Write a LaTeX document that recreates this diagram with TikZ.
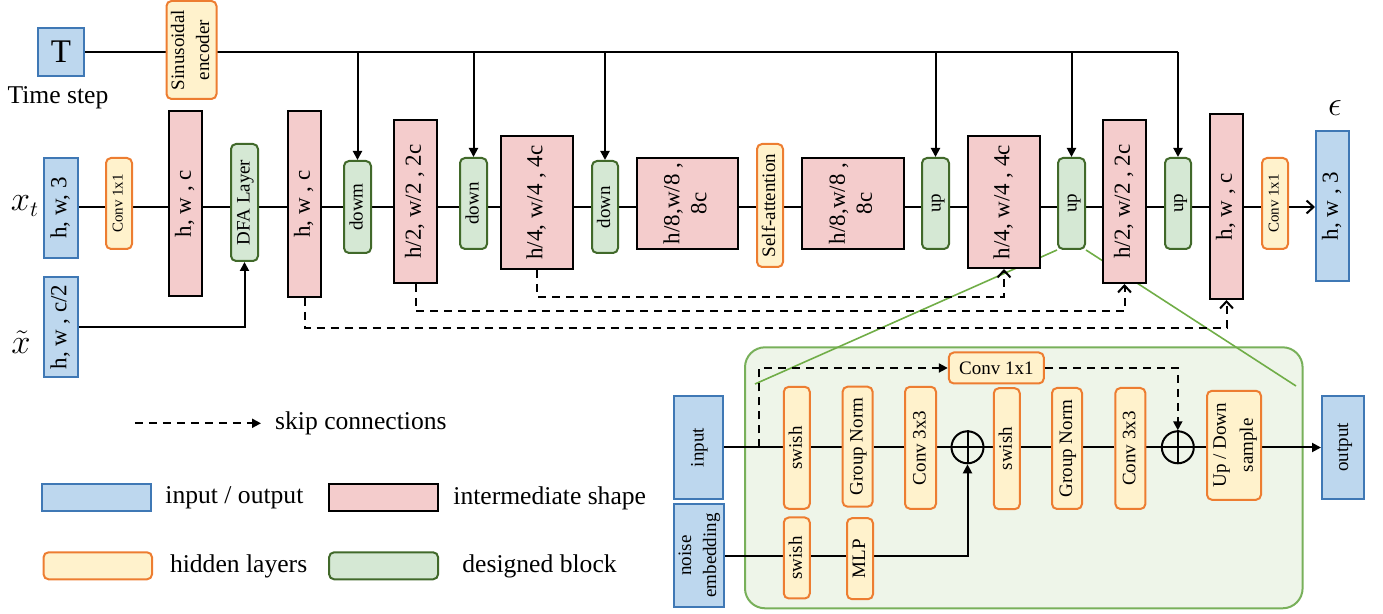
\documentclass[tikz,border=0pt]{standalone}
\usepackage{amsmath}
\usepackage{fontspec}
\setmainfont{Liberation Serif}
\usepackage{graphicx}
\usetikzlibrary{arrows.meta,shapes.geometric}
\definecolor{ioF}{HTML}{BDD7EE}
\definecolor{ioB}{HTML}{3F78B5}
\definecolor{midF}{HTML}{F4CCCC}
\definecolor{hidF}{HTML}{FFF2CC}
\definecolor{hidB}{HTML}{ED7D31}
\definecolor{blkF}{HTML}{D5E8D4}
\definecolor{blkB}{HTML}{41692A}
\definecolor{conF}{HTML}{EEF5E9}
\definecolor{conB}{HTML}{78B05A}
\definecolor{zoomL}{HTML}{70AD47}
\pgfdeclarelayer{back}
\pgfdeclarelayer{bg}
\pgfsetlayers{back,bg,main}
\newcommand\vtxt[1]{\rotatebox{90}{\begin{tabular}{@{}c@{}}#1\end{tabular}}}
\newcommand\fsA{\fontsize{11.5}{13.5}\selectfont}
\newcommand\fsB{\fontsize{9.5}{12.5}\selectfont}
\newcommand\fsC{\fontsize{7.5}{9}\selectfont}
\newcommand\fsL{\fontsize{12.8}{15}\selectfont}
\newcommand\fsM{\fontsize{16}{18}\selectfont}
\tikzset{
  sz/.style 2 args={minimum width=#1*0.5pt, minimum height=#2*0.5pt},
  io/.style={draw=ioB, fill=ioF, line width=1pt, inner sep=0pt, font=\fsA},
  mid/.style={draw=black, fill=midF, line width=1pt, inner sep=0pt, font=\fsA},
  hid/.style={draw=hidB, fill=hidF, line width=1pt, rounded corners=2.5pt, inner sep=0pt, font=\fsB},
  blk/.style={draw=blkB, fill=blkF, line width=1pt, rounded corners=2.5pt, inner sep=0pt, font=\fsB},
  opl/.style={draw=black, circle, line width=1pt, minimum size=16pt, inner sep=0pt},
  con/.style={draw=conB, fill=conF, line width=1pt, rounded corners=10pt, inner sep=0pt},
  wire/.style={line width=1pt, draw=black},
  dsh/.style={line width=1pt, dash pattern=on 4pt off 3pt},
  ta/.style={-{Triangle[length=4.5pt,width=4.5pt]}},
  ob/.style={-{Straight Barb[length=3.5pt,width=6.5pt,line width=1pt]}},
  zl/.style={draw=zoomL, line width=0.8pt},
  lbl/.style={inner sep=0pt, font=\fsL},
  mlbl/.style={inner sep=0pt, font=\fsM},
}
\begin{document}
\begin{tikzpicture}[x=0.5pt,y=-0.5pt]
\useasboundingbox (0,0) rectangle (1383,614);

% ---------- top row ----------
\node[io, sz={46}{48}, font=\fontsize{16.5}{18}\selectfont] (T) at (61,52) {T};
\node[lbl] (tsl) at (58,98) {Time step};
\node[hid, sz={45}{98}] (sin) at (191.5,50) {\vtxt{Sinusoidal\\encoder}};

\node[io, sz={34}{100}] (xt) at (61,208) {\vtxt{h, w, 3}};
\node[mlbl] (xtl) at (25,206) {$x_t$};
\node[hid, sz={26}{91}, font=\fsC] (cv1) at (119,203.5) {\vtxt{Conv 1x1}};
\node[mid, sz={33}{185}] (hw1) at (185.5,203.5) {\vtxt{h, w , c}};
\node[blk, sz={27}{117}] (dfa) at (244.5,202.5) {\vtxt{DFA Layer}};
\node[mid, sz={33}{186}] (hw2) at (304.5,204) {\vtxt{h, w , c}};
\node[blk, sz={27}{92}] (dowm) at (357.5,207) {\vtxt{dowm}};
\node[mid, sz={43}{163}] (h2a) at (415.5,201.5) {\vtxt{h/2, w/2 , 2c}};
\node[blk, sz={27}{91}] (dn1) at (473.5,203.5) {\vtxt{down}};
\node[mid, sz={72}{133}] (h4a) at (537,202.5) {\vtxt{h/4, w/4 , 4c}};
\node[blk, sz={26}{92}] (dn2) at (605,207) {\vtxt{down}};
\node[mid, sz={101}{91}] (h8a) at (687.5,203.5) {\vtxt{h/8,w/8 ,\\8c}};
\node[hid, sz={26}{123}] (sa) at (770,205.5) {\vtxt{Self-attention}};
\node[mid, sz={102}{91}] (h8b) at (853,203.5) {\vtxt{h/8,w/8 ,\\8c}};
\node[blk, sz={27}{91}] (up1) at (935.5,203.5) {\vtxt{up}};
\node[mid, sz={72}{132}] (h4b) at (1004,202) {\vtxt{h/4, w/4 , 4c}};
\node[blk, sz={27}{91}] (up2) at (1071.5,203.5) {\vtxt{up}};
\node[mid, sz={43}{163}] (h2b) at (1124.5,201.5) {\vtxt{h/2, w/2 , 2c}};
\node[blk, sz={26}{91}] (up3) at (1178,203.5) {\vtxt{up}};
\node[mid, sz={33}{185}] (hw3) at (1226.5,206.5) {\vtxt{h, w , c}};
\node[hid, sz={26}{91}, font=\fsC] (cv2) at (1275,203.5) {\vtxt{Conv 1x1}};
\node[io, sz={33}{150}] (out) at (1332.5,206) {\vtxt{h, w , 3}};
\node[mlbl] (eps) at (1335,108) {$\epsilon$};

\node[io, sz={34}{100}] (xs) at (61,327) {\vtxt{h, w , c/2}};
\node[mlbl] (xsl) at (21,342) {$\tilde{x}$};

\coordinate (m) at (0,207);
\coordinate (s1) at (0,297);
\coordinate (s2) at (0,311.5);
\coordinate (s3) at (0,328);
\coordinate (zA) at (755,384);
\coordinate (zB) at (1296,386);

% ---------- block detail ----------
\begin{pgfonlayer}{back}
\node[con, sz={557.6}{261}] (cont) at (1023.8,477.8) {};
\end{pgfonlayer}
\node[io, sz={49}{103}, font=\fsB] (inp) at (698.6,447.5) {\vtxt{input}};
\node[io, sz={49}{103}, font=\fsB] (noise) at (698.6,555.5) {\vtxt{noise\\embedding}};
\node[io, sz={42}{103}, font=\fsB] (outp) at (1343,447.5) {\vtxt{output}};
\node[hid, sz={26}{122}] (sw1) at (796.8,447.8) {\vtxt{swish}};
\node[hid, sz={30}{120}] (gn1) at (857.6,446.7) {\vtxt{Group Norm}};
\node[hid, sz={31}{122}] (c31) at (920.5,447.8) {\vtxt{Conv 3x3}};
\node[opl] (op1) at (967.5,447.3) {};
\node[hid, sz={26}{121}] (sw2) at (1006.8,448.7) {\vtxt{swish}};
\node[hid, sz={30}{121}] (gn2) at (1067,448.5) {\vtxt{Group Norm}};
\node[hid, sz={30}{121}] (c32) at (1130.4,448.5) {\vtxt{Conv 3x3}};
\node[opl] (op2) at (1177.8,447.3) {};
\node[hid, sz={54}{109}, font=\fontsize{9.5}{13.5}\selectfont] (ud) at (1234,445.3) {\vtxt{Up / Down\\sample}};
\node[hid, sz={95}{31}] (cv3) at (996.3,368) {Conv 1x1};
\node[hid, sz={26}{81}] (sw3) at (796.8,558) {\vtxt{swish}};
\node[hid, sz={26}{81}] (mlp) at (860,558.7) {\vtxt{MLP}};
\coordinate (bm) at (0,447.5);
\coordinate (nm) at (0,555.7);
\coordinate (sk) at (759.4,447.5);

% ---------- legend ----------
\coordinate (lg1) at (134.8,423.3);
\coordinate (lg2) at (261,423.3);
\node[lbl, anchor=west] (lgs) at (274.8,423) {skip connections};
\node[io, sz={109}{27}] (lgio) at (96.7,497.7) {};
\node[lbl, anchor=west] (lgiot) at (165,498) {input / output};
\node[mid, sz={109}{27}] (lgmid) at (383.6,497.7) {};
\node[lbl, anchor=west] (lgmidt) at (453,498) {intermediate shape};
\node[hid, sz={108.5}{27}] (lghid) at (97.8,565.8) {};
\node[lbl, anchor=west] (lghidt) at (169.6,566) {hidden layers};
\node[blk, sz={109}{27}] (lgblk) at (383.6,565.8) {};
\node[lbl, anchor=west] (lgblkt) at (462,566) {designed block};

% ---------- connectors ----------
\begin{pgfonlayer}{bg}
% zoom lines
\draw[zl] (up2.south west) -- (zA);
\draw[zl] (up2.south east) -- (zB);
% time line
\draw[wire] (T.east) -- (T.east -| up3.north);
\draw[wire,ta] (T.east -| up3.north) -- (up3.north);
\foreach \b in {dowm,dn1,dn2,up1,up2}
  \draw[wire,ta] (T.east -| \b.north) -- (\b.north);
% main line
\foreach \a/\b in {xt/cv1,cv1/hw1,hw1/dfa,dfa/hw2,hw2/dowm,dowm/h2a,h2a/dn1,dn1/h4a,h4a/dn2,dn2/h8a,h8a/sa,sa/h8b,h8b/up1,up1/h4b,h4b/up2,up2/h2b,h2b/up3,up3/hw3,hw3/cv2}
  \draw[wire] (\a.east |- m) -- (\b.west |- m);
\draw[wire,ob] (cv2.east |- m) -- (out.west |- m);
\draw[wire,ta] (xs.east) -| (dfa.south);
% skip connections
\draw[dsh,ob] (h4a.south) -- (h4a.south |- s1) -| (h4b.south);
\draw[dsh,ob] (h2a.south) -- (h2a.south |- s2) -| (h2b.south);
\draw[dsh,ob] (hw2.south) -- (hw2.south |- s3) -| (hw3.south);
% block detail
\foreach \a/\b in {inp/sw1,sw1/gn1,gn1/c31,c31/op1,op1/sw2,sw2/gn2,gn2/c32,c32/op2,op2/ud}
  \draw[wire] (\a.east |- bm) -- (\b.west |- bm);
\draw[wire,ta] (ud.east |- bm) -- (outp.west |- bm);
\draw[wire] (op1.west) -- (op1.east);
\draw[wire] (op1.north) -- (op1.south);
\draw[wire] (op2.west) -- (op2.east);
\draw[wire] (op2.north) -- (op2.south);
\draw[wire] (noise.east |- nm) -- (sw3.west |- nm);
\draw[wire] (sw3.east |- nm) -- (mlp.west |- nm);
\draw[wire,ta] (mlp.east |- nm) -| (op1.south);
\draw[dsh,ta] (sk) |- (cv3.west);
\draw[dsh,ta] (cv3.east) -| (op2.north);
% legend arrow
\draw[dsh,ta] (lg1) -- (lg2);
\end{pgfonlayer}
\end{tikzpicture}
\end{document}
